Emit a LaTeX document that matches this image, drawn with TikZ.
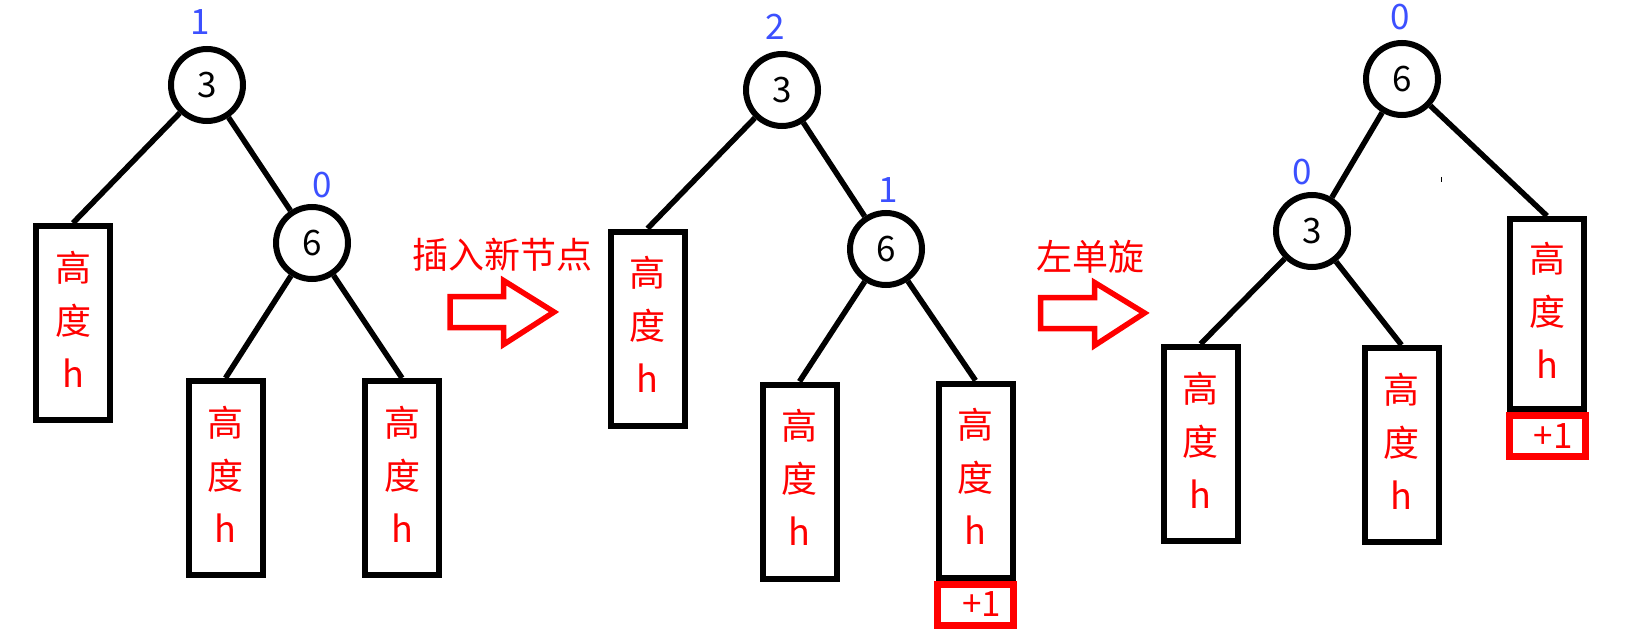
\documentclass[tikz,border=0pt]{standalone}
\usepackage{fontspec}
\setmainfont{Noto Sans CJK SC}
\usepackage{tikz}
\usetikzlibrary{positioning}
\definecolor{avlred}{HTML}{FF0000}
\definecolor{avlblue}{HTML}{3C50FF}
\newcommand{\hcol}{高\\度\\h\rule[-8pt]{0pt}{8pt}}

\begin{document}
\begin{tikzpicture}[x=1pt,y=-1pt,
  treenode/.style={circle,draw,line width=6pt,minimum size=72pt,inner sep=0pt,font=\fontsize{35}{40}\selectfont},
  hbox/.style={rectangle,draw,line width=6pt,minimum width=74pt,minimum height=194pt,inner sep=0pt,align=center,text=avlred,font=\fontsize{36}{53}\selectfont},
  plusbox/.style={rectangle,draw=avlred,line width=7pt,minimum width=76pt,minimum height=41pt,inner sep=0pt,text=avlred,font=\fontsize{35}{40}\selectfont},
  bf/.style={text=avlblue,font=\fontsize{35}{40}\selectfont},
  hint/.style={text=avlred,font=\fontsize{36}{40}\selectfont},
  branch/.style={line width=5.5pt},
  bigarrow/.style={draw=avlred,line width=5.5pt,line join=miter}]
  \useasboundingbox (0,0) rectangle (1645,639);

  % before insertion
  \node[treenode] (ta) at (207,85) {3};
  \node[bf] (ta-bf) at (200,22) {1};
  \node[treenode] (tb) at (312,243) {6};
  \node[bf] (tb-bf) at (322,185) {0};
  \node[hbox] (ta-l) at (73,323) {\hcol};
  \node[hbox] (tb-l) at (225.5,478) {\hcol};
  \node[hbox] (tb-r) at (402,478) {\hcol};
  \draw[branch] (ta) -- (ta-l.north);
  \draw[branch] (ta) -- (tb);
  \draw[branch] (tb) -- (tb-l.north);
  \draw[branch] (tb) -- (tb-r.north);

  \node[hint] (ins) at (502,255) {插入新节点};
  \draw[bigarrow,shift={(450,312)}] (0,-15.5) -- (53.5,-15.5) -- (53.5,-31.5)
    -- (104,0) -- (53.5,32.5) -- (53.5,15.5) -- (0,15.5) -- cycle;

  % after insertion
  \node[treenode] (ua) at (782,90) {3};
  \node[bf] (ua-bf) at (775,27) {2};
  \node[treenode] (ub) at (886,249) {6};
  \node[bf] (ub-bf) at (888,190) {1};
  \node[hbox] (ua-l) at (647.5,328.5) {\hcol};
  \node[hbox] (ub-l) at (799.5,481.5) {\hcol};
  \node[hbox] (ub-r) at (975.5,480.5) {\hcol};
  \node[plusbox,below=0pt of ub-r] (ub-p) {\hspace*{12pt}+1};
  \draw[branch] (ua) -- (ua-l.north);
  \draw[branch] (ua) -- (ub);
  \draw[branch] (ub) -- (ub-l.north);
  \draw[branch] (ub) -- (ub-r.north);

  \node[hint] (rot) at (1090,257) {左单旋};
  \draw[bigarrow,shift={(1040.5,313)}] (0,-15.5) -- (54,-15.5) -- (54,-30.5)
    -- (104,0) -- (54,32.5) -- (54,15.5) -- (0,15.5) -- cycle;

  % after left rotation
  \node[treenode] (va) at (1402,79) {6};
  \node[bf] (va-bf) at (1400,17) {0};
  \node[treenode] (vb) at (1312,231) {3};
  \node[bf] (vb-bf) at (1302,172) {0};
  \node[hbox] (vb-l) at (1200.5,444) {\hcol};
  \node[hbox] (vb-r) at (1401.5,445) {\hcol};
  \node[hbox,minimum height=190pt] (va-r) at (1547,314) {\hcol};
  \node[plusbox,below=0pt of va-r] (va-p) {\hspace*{12pt}+1};
  \draw[branch] (va) -- (vb);
  \draw[branch] (va) -- (va-r.north);
  \draw[branch] (vb) -- (vb-l.north);
  \draw[branch] (vb) -- (vb-r.north);
  \draw[line width=1pt] (1441,177) -- (1441,182);
\end{tikzpicture}
\end{document}
